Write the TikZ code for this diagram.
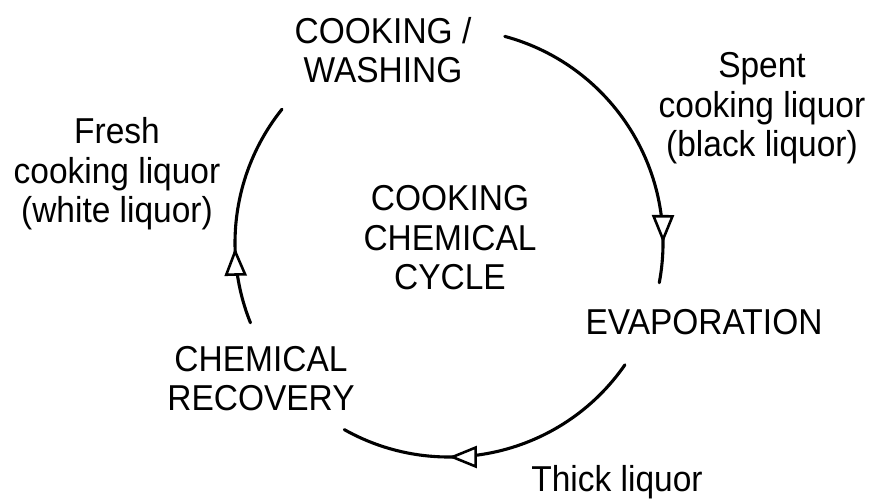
\documentclass[tikz,border=0pt]{standalone}
\usepackage{fontspec}
\setmainfont{Liberation Sans}[FakeStretch=0.93]
\usetikzlibrary{arrows.meta,decorations.markings}

\begin{document}
\begin{tikzpicture}[x=1pt,y=1pt,
  label/.style={inner sep=0pt, align=center, anchor=base,
    font=\fontsize{36}{39.5}\selectfont},
  flow/.style={line width=3.1pt, line cap=round},
  midarrow/.style={postaction={decorate},
    decoration={markings, mark=at position #1 with
      {\arrow{Triangle[fill=white, length=28pt, width=22pt, line width=2.6pt]}}}}
]
\useasboundingbox (0,0) rectangle (869,502);

% centre and radius of the cycle
\def\cx{449}\def\cy{259}\def\rr{214}

% text (anchored at the baseline of the last line)
\node[label] (wash)  at (383,419) {COOKING /\\WASHING};
\node[label] (spent) at (762,345) {Spent\\cooking liquor\\(black liquor)};
\node[label] (fresh) at (117,279) {Fresh\\cooking liquor\\(white liquor)};
\node[label] (cycle) at (450,212) {COOKING\\CHEMICAL\\CYCLE};
\node[label] (evap)  at (704,167) {EVAPORATION};
\node[label] (recov) at (261,91)  {CHEMICAL\\RECOVERY};
\node[label] (thick) at (617,10)  {Thick liquor};

% arc end points
\coordinate (a1) at ({\cx+\rr*cos(74.9)},{\cy+\rr*sin(74.9)});
\coordinate (a2) at ({\cx+\rr*cos(-34.7)},{\cy+\rr*sin(-34.7)});
\coordinate (a3) at ({\cx+\rr*cos(201.9)},{\cy+\rr*sin(201.9)});

% the three legs of the cycle
\draw[flow, midarrow=0.875] (a1) arc[start angle=74.9, end angle=-10.7, radius=\rr];
\draw[flow, midarrow=0.654] (a2) arc[start angle=-34.7, end angle=-119.3, radius=\rr];
\draw[flow, midarrow=0.34]  (a3) arc[start angle=201.9, end angle=141.3, radius=\rr];
\end{tikzpicture}
\end{document}
